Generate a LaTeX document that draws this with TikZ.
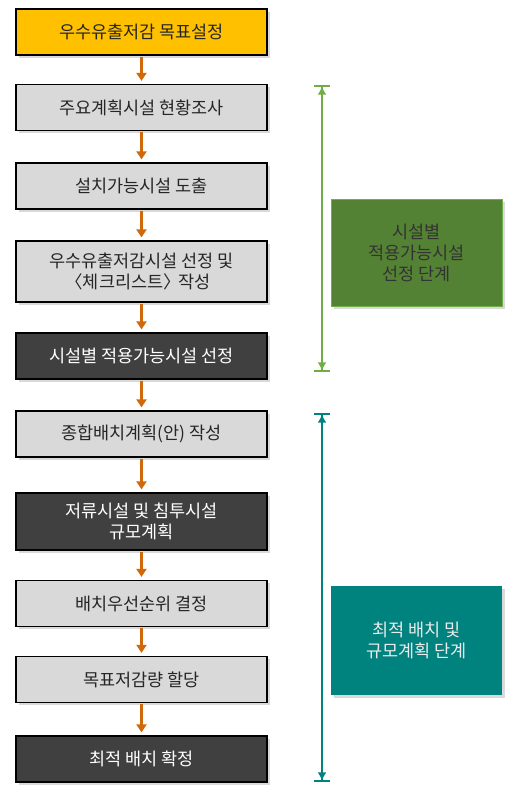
\documentclass[tikz,border=0pt]{standalone}
\usepackage{fontspec}
\setmainfont{Noto Sans CJK KR}
\usetikzlibrary{positioning,shadows,arrows.meta}
\definecolor{boxyellow}{HTML}{FFC000}
\definecolor{boxgray}{HTML}{D9D9D9}
\definecolor{boxdark}{HTML}{404040}
\definecolor{stagegreen}{HTML}{548235}
\definecolor{stageteal}{HTML}{00827F}
\definecolor{linegreen}{HTML}{70AD47}
\definecolor{flowarrow}{HTML}{D0680C}
\begin{document}
\begin{tikzpicture}[x=1pt,y=-1pt,
                       font=\fontsize{17.5}{21}\selectfont,
                       main node/.style={rectangle,draw=black,line width=1.2pt,minimum width=251pt,minimum height=46pt,align=center,inner sep=0pt,
                                         drop shadow={opacity=0.3,shadow xshift=2.5pt,shadow yshift=-2.5pt}},
                       start node/.style={main node,fill=boxyellow,text=black!85},
                       light node/.style={main node,fill=boxgray,text=black!85},
                       dark node/.style={main node,fill=boxdark,text=white},
                       stage node/.style={rectangle,minimum width=171pt,align=center,inner sep=0pt,
                                          drop shadow={opacity=0.3,shadow xshift=2.5pt,shadow yshift=-2.5pt}},
                       flow/.style={-{Triangle[width=10pt,length=8pt]},line width=2.5pt,draw=flowarrow,shorten >=3pt,shorten <=1pt},
                       span/.style={line width=1.6pt,{Bar[width=16pt]Latex[length=8pt,width=9pt]}-{Latex[length=8pt,width=9pt]Bar[width=16pt]}}
                      ]
  \useasboundingbox (0,0) rectangle (519,798);

  \node[start node] (goal) at (141.5,32.0) {우수유출저감 목표설정};
  \node[light node] (survey) at (141.5,107.5) {주요계획시설 현황조사};
  \node[light node] (derive) at (141.5,186.0) {설치가능시설 도출};
  \node[light node,minimum height=61pt] (check) at (141.5,271.5) {우수유출저감시설 선정 및\\\kern-0.4em〈체크리스트〉\kern-0.15em 작성};
  \node[dark node] (select) at (141.5,356.0) {시설별 적용가능시설 선정};
  \node[light node] (layout) at (141.5,434.0) {종합배치계획(안) 작성};
  \node[dark node,minimum height=57pt] (scale) at (141.5,521.5) {저류시설 및 침투시설\\규모계획};
  \node[light node] (order) at (141.5,603.5) {배치우선순위 결정};
  \node[light node] (assign) at (141.5,679.5) {목표저감량 할당};
  \node[dark node] (final) at (141.5,759.0) {최적 배치 확정};

  \node[stage node,fill=stagegreen,draw=linegreen,line width=1pt,minimum height=107pt,text=black!80] (stagea) at (416.5,252.5) {시설별\\적용가능시설\\선정 단계};
  \node[stage node,fill=stageteal,minimum height=109pt,text=white!92!black] (stageb) at (416.5,640.5) {최적 배치 및\\규모계획 단계};

  \coordinate (atop) at (322,85);
  \coordinate (abot) at (322,372);
  \coordinate (btop) at (322,413);
  \coordinate (bbot) at (322,782);

  \path%
      (goal) edge [flow] (survey)
      (survey) edge [flow] (derive)
      (derive) edge [flow] (check)
      (check) edge [flow] (select)
      (select) edge [flow] (layout)
      (layout) edge [flow] (scale)
      (scale) edge [flow] (order)
      (order) edge [flow] (assign)
      (assign) edge [flow] (final);

  \draw[span,linegreen] (atop) -- (abot);
  \draw[span,stageteal] (btop) -- (bbot);
\end{tikzpicture}
\end{document}
